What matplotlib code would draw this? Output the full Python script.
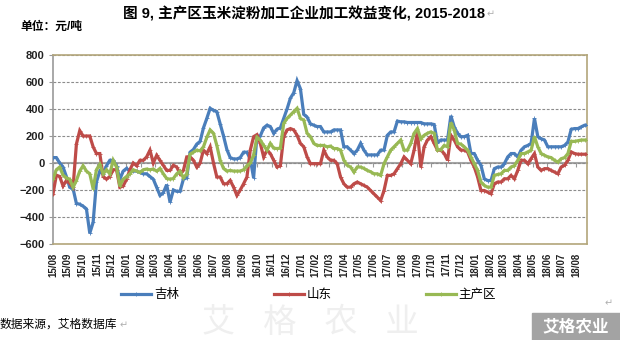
import matplotlib
matplotlib.use("Agg")
import matplotlib.pyplot as plt
import matplotlib.dates as mdates
from matplotlib.patches import Rectangle
import numpy as np
import pandas as pd

plt.rcParams['font.family'] = ['Liberation Sans', 'Noto Sans CJK SC', 'DejaVu Sans']

# weekly readings, 2015-08-01 .. 2018-08-18 (yuan/ton)
start_date = '2015-08-01'
series_names = ['吉林', '山东', '主产区']

jilin = [40, 40, 0, -30, -100, -180, -190, -300, -305, -320,
         -340, -520, -440, -140, -60, -80, -20, 20, 20, -20,
         -120, -60, -40, -60, -60, -60, -70, -80, -80, -100,
         -120, -180, -240, -220, -160, -290, -200, -210, -210, -120,
         -110, 80, 100, 140, 160, 260, 330, 405, 390, 380,
         290, 200, 100, 40, 30, 30, 40, 80, 80, 30,
         -110, 200, 200, 260, 280, 270, 220, 250, 260, 330,
         400, 480, 520, 610, 550, 360, 340, 290, 280, 270,
         270, 230, 230, 230, 245, 245, 245, 120, 120, 95,
         70, 95, 145, 95, 60, 60, 60, 60, 95, 95,
         205, 230, 230, 310, 305, 305, 300, 300, 300, 300,
         300, 290, 290, 290, 285, 150, 170, 170, 170, 350,
         268, 220, 195, 195, 205, 70, 70, 20, -17, -117,
         -130, -130, -42, -30, -30, -5, 45, 70, 70, 45,
         95, 120, 130, 145, 330, 195, 180, 170, 120, 120,
         120, 120, 120, 130, 156, 250, 255, 255, 268, 280,
         280]

shandong = [-230, -90, -100, -170, -130, -150, -180, 140, 240, 200,
            200, 200, 120, 70, 70, -100, -120, -100, -50, -50,
            -180, -170, -120, -50, 0, -20, 20, 20, 45, 95,
            0, 57, 20, -17, -55, -55, -17, -30, -80, -55,
            45, 45, 20, -30, 0, 95, 70, 120, 0, -104,
            -104, -154, -154, -129, -179, -240, -200, -154, -104, 95,
            195, 210, 145, 45, 95, 70, 20, -30, -20, 195,
            245, 255, 245, 205, 145, 120, 45, -5, -5, -5,
            -5, 95, 45, 20, 20, -5, -104, -154, -179, -179,
            -154, -141, -154, -166, -179, -204, -228, -253, -278, -204,
            -92, -92, -80, -42, -5, 45, 20, -5, 95, 230,
            -30, 120, 170, 195, 145, 95, 95, 70, 20, 205,
            170, 120, 95, 95, 82, 20, -30, -104, -204, -204,
            -216, -228, -154, -141, -141, -117, -117, -92, -117, -55,
            20, 20, -5, 32, 70, -30, -55, -42, -42, -55,
            -67, -80, -30, -17, 20, 82, 70, 65, 65, 65,
            65]

zhuchanqu = [-120, -50, -30, -90, -110, -120, -180, -130, -60, -20,
             -60, -80, -190, -50, -10, -80, -50, -80, 20, -30,
             -170, -120, -100, -80, -50, -60, -70, -50, -45, -50,
             -45, -60, -40, -80, -115, -120, -115, -80, -60, -110,
             -80, 65, 80, 95, 90, 120, 190, 245, 220, 130,
             20, -40, -60, -55, -60, -60, -60, -50, -20, 0,
             60, 190, 170, 130, 95, 145, 110, 107, 110, 293,
             330, 355, 380, 405, 330, 318, 220, 195, 145, 130,
             130, 130, 120, 125, 107, 107, 95, 20, -17, -30,
             -67, -30, -30, -40, -55, -65, -80, -80, -92, -5,
             45, 95, 120, 145, 170, 95, 95, 145, 220, 255,
             180, 205, 220, 230, 220, 95, 100, 130, 120, 300,
             245, 145, 140, 120, 95, 45, -5, -55, -141, -166,
             -179, -179, -92, -85, -80, -55, -55, -30, -20, 20,
             70, 70, 82, 95, 195, 120, 70, 57, 45, 40,
             20, 7, 32, 40, 70, 160, 160, 165, 170, 170,
             170]

y_ticks = [-600, -400, -200, 0, 200, 400, 600, 800]

dates = pd.date_range(start_date, periods=len(jilin), freq='7D')
months = pd.date_range('2015-08-01', '2018-08-01', freq='MS')

fig = plt.figure(figsize=(6.2, 3.4), dpi=100)
ax = fig.add_axes([53 / 620, 1 - 244 / 340, 534 / 620, 189 / 340])

colors = ['#4a7ebb', '#be4b48', '#98b954']
lines = []
for vals, c, name in zip([jilin, shandong, zhuchanqu], colors, series_names):
    ln, = ax.plot(dates, vals, color=c, lw=2.3, marker='+', ms=2.5, mew=0.6,
                  solid_joinstyle='miter', label=name, zorder=3)
    lines.append(ln)

ax.set_ylim(-600, 800)
ax.set_xlim(pd.Timestamp('2015-08-01'), pd.Timestamp('2018-08-23'))
ax.set_yticks(y_ticks)
ax.yaxis.grid(True, ls=(0, (2.5, 1.5)), color='#8c8c8c', lw=0.8)
ax.set_axisbelow(True)

ax.set_xticks(months)
ax.xaxis.set_major_formatter(mdates.DateFormatter('%y/%m'))
ax.tick_params(axis='x', length=0, pad=6, labelsize=7, rotation=90)
ax.tick_params(axis='y', length=3, color='#999999', labelsize=8, pad=3)
for lab in ax.get_xticklabels() + ax.get_yticklabels():
    lab.set_fontweight('bold')
    lab.set_color('#222222')

for side in ['top', 'right', 'bottom']:
    ax.spines[side].set_color('#b3a67a')
    ax.spines[side].set_linewidth(1.2)
ax.spines['left'].set_color('#999999')
ax.spines['left'].set_linewidth(1.2)

# category axis crossing at zero
zero = ax.secondary_xaxis(600 / 1400)
zero.set_xticks(months)
zero.set_xticklabels([])
zero.tick_params(length=3, color='#999999', width=0.8)
zero.spines['bottom'].set_color('#a6a6a6')
zero.spines['bottom'].set_linewidth(1.5)
zero.spines['top'].set_visible(False)

fig.legend(handles=lines, loc='center', bbox_to_anchor=(0.498, 1 - 295 / 340),
           ncol=3, frameon=False, fontsize=9, handlelength=2.4,
           handletextpad=0.2, columnspacing=7.6)

title = fig.text(0.49, 1 - 14 / 340, '图 9, 主产区玉米淀粉加工企业加工效益变化, 2015-2018',
                 ha='center', va='center', fontsize=10.5, fontweight='bold')
fig.text(20 / 620, 1 - 27 / 340, '单位：元/吨', ha='left', va='center',
         fontsize=8.5, fontweight='bold')
source = fig.text(0.0, 1 - 325 / 340, '数据来源，艾格数据库', ha='left', va='center',
                  fontsize=8.5)

# faint watermark
fig.text(0.50, 1 - 323 / 340, '艾   格   农   业', ha='center', va='center',
         fontsize=24, color='#efefef', zorder=0)
fig.patches.append(Rectangle((532 / 620, 0), 88 / 620, 27 / 340,
                             transform=fig.transFigure, color='#a3a3a3', zorder=1))
fig.text(576 / 620, 1 - 327 / 340, '艾格农业', ha='center', va='center',
         fontsize=12, color='white', fontweight='bold')

# paragraph marks
fig.canvas.draw()
inv = fig.transFigure.inverted()
bb = title.get_window_extent().transformed(inv)
fig.text(bb.x1 + 0.002, 1 - 14 / 340, '↵', ha='left', va='center', fontsize=7,
         color='#b0b0b0', family='DejaVu Sans')
bb2 = source.get_window_extent().transformed(inv)
fig.text(bb2.x1 + 0.004, 1 - 325 / 340, '↵', ha='left', va='center', fontsize=7,
         color='#b0b0b0', family='DejaVu Sans')
fig.text(605 / 620, 1 - 303 / 340, '↵', ha='left', va='center', fontsize=7,
         color='#b0b0b0', family='DejaVu Sans')

fig.savefig('out.png', dpi=100)
